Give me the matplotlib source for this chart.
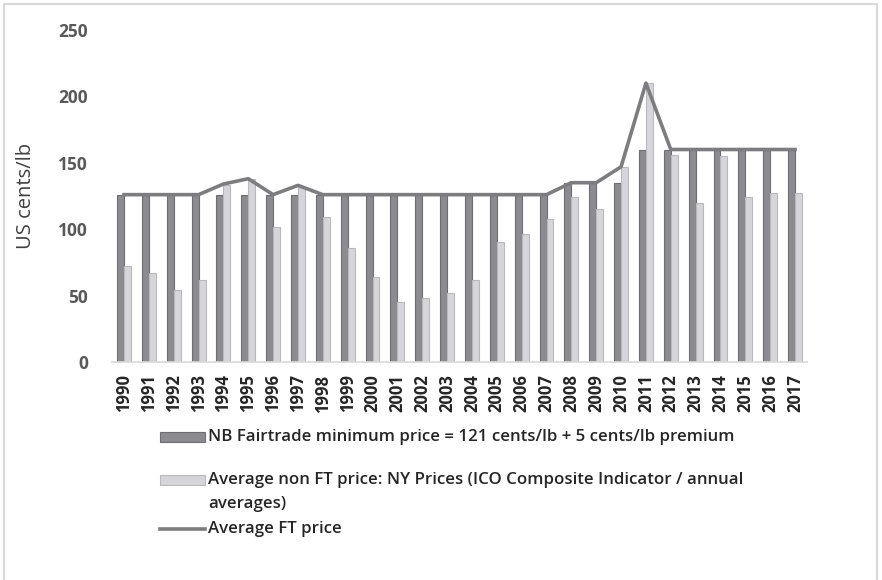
import matplotlib
matplotlib.use("Agg")
from matplotlib import pyplot as plt
from matplotlib.patches import Rectangle
from matplotlib.lines import Line2D
import numpy as np

plt.rcParams['font.family'] = ['Open Sans', 'DejaVu Sans']

years = [str(y) for y in range(1990, 2018)]
# Fairtrade minimum price (cents/lb)
ft_min = [126, 126, 126, 126, 126, 126, 126, 126, 126, 126,
          126, 126, 126, 126, 126, 126, 126, 126, 135, 135,
          135, 160, 160, 160, 160, 160, 160, 160]
# ICO composite / NY prices
non_ft = [72, 67, 54, 62, 133, 138, 102, 132, 109, 86,
          64, 45, 48, 52, 62, 90, 96, 108, 124, 115,
          147, 210, 156, 120, 155, 124, 127, 127]
# average FT price
ft_avg = [126, 126, 126, 126, 134, 138, 126, 133, 126, 126,
          126, 126, 126, 126, 126, 126, 126, 126, 135, 135,
          147, 210, 160, 160, 160, 160, 160, 160]

yticks = [0, 50, 100, 150, 200, 250]

dark = "#8c8b90"
dark_edge = "#6e6d72"
light = "#d6d6da"
light_edge = "#b9b9bd"
line_col = "#7d7d7f"

fig = plt.figure(figsize=(8.82, 5.8), dpi=100)
ax = fig.add_axes([0.1265, 0.3759, 0.789, 0.5724])

x = np.arange(len(years))
w = 0.28
ax.bar(x - w / 2, ft_min, w, color=dark, edgecolor=dark_edge, linewidth=0.8)
ax.bar(x + w / 2, non_ft, w, color=light, edgecolor=light_edge, linewidth=0.8)
ax.plot(x, ft_avg, color=line_col, linewidth=2.6, solid_joinstyle="round")

ax.set_xlim(-0.5, len(years) - 0.5)
ax.set_ylim(0, 250)
ax.set_yticks(yticks)
ax.set_yticklabels([str(t) for t in yticks], fontsize=12.5, fontweight="bold", color="#595959")
ax.set_xticks(x)
ax.set_xticklabels(years, rotation=90, fontsize=12, fontweight="bold", color="#262626")
ax.tick_params(axis="y", length=0, pad=17)
ax.tick_params(axis="x", length=0, pad=9)
for s in ["top", "right", "left"]:
    ax.spines[s].set_visible(False)
ax.spines["bottom"].set_color("#d9d9d9")
ax.spines["bottom"].set_linewidth(1.2)
ax.set_ylabel("US cents/lb", fontsize=14.5, color="#404040")
ax.yaxis.set_label_coords(-0.108, 0.5)

# manual legend below the plot
W, H = 882.0, 580.0
def fx(px):
    return px / W
def fy(py):
    return 1 - py / H

txt_kw = dict(fontsize=12.2, fontweight="semibold", color="#262626", va="center")
fig.patches.append(Rectangle((fx(160), fy(442)), fx(45), 10 / H, transform=fig.transFigure,
                             facecolor=dark, edgecolor=dark_edge, linewidth=0.8))
fig.text(fx(208), fy(437), "NB Fairtrade minimum price = 121 cents/lb + 5 cents/lb premium", **txt_kw)
fig.patches.append(Rectangle((fx(160), fy(485)), fx(45), 10 / H, transform=fig.transFigure,
                             facecolor=light, edgecolor=light_edge, linewidth=0.8))
fig.text(fx(208), fy(480), "Average non FT price: NY Prices (ICO Composite Indicator / annual", **txt_kw)
fig.text(fx(208), fy(504), "averages)", **txt_kw)
fig.lines.append(Line2D([fx(160), fx(205)], [fy(529), fy(529)], transform=fig.transFigure,
                        color=line_col, linewidth=2.6))
fig.text(fx(208), fy(529), "Average FT price", **txt_kw)

# outer chart border
fig.patches.append(Rectangle((fx(4), fy(585)), fx(873), 581 / H, transform=fig.transFigure,
                             facecolor="none", edgecolor="#d9d9dc", linewidth=1.5))

fig.savefig("out.png", dpi=100)
